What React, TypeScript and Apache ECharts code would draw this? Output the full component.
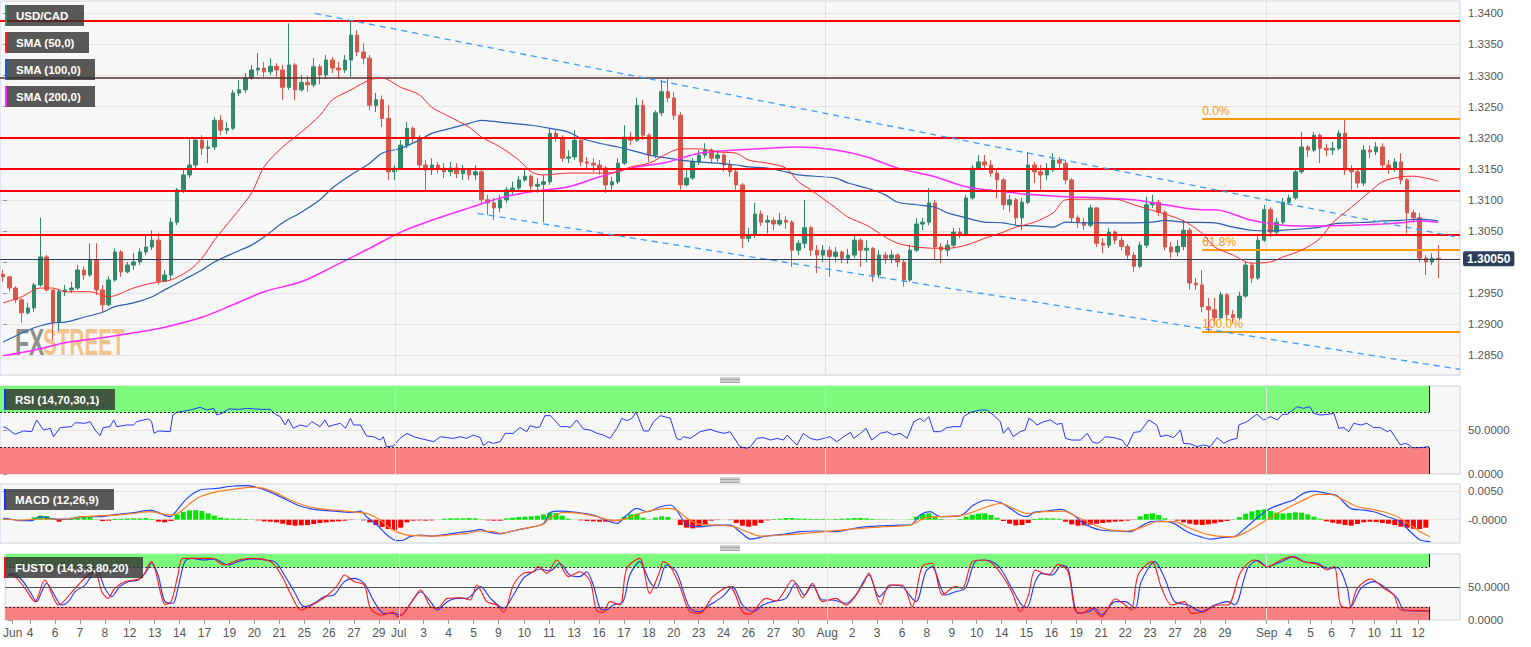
import React, { useEffect, useRef } from 'react';
import * as echarts from 'echarts';

// ---------- DATA ----------
const SLOT_COUNT = 235; // category slots on the time axis (232 candles + right padding)
const firstOpen = 1.298;
const closes = [
  1.2976, 1.2958, 1.2939, 1.2918, 1.2926, 1.2963, 1.3008, 1.2955, 1.2903, 1.2952,
  1.2955, 1.2958, 1.2987, 1.2979, 1.3003, 1.2955, 1.2931, 1.2971, 1.3016, 1.2984,
  1.2995, 1.3000, 1.3016, 1.3024, 1.3035, 1.2969, 1.2979, 1.3064, 1.3116, 1.3140,
  1.3156, 1.3196, 1.3183, 1.3185, 1.3228, 1.3212, 1.3215, 1.3272, 1.3277, 1.3296,
  1.3309, 1.3312, 1.3306, 1.3315, 1.3309, 1.3281, 1.3317, 1.3277, 1.3289, 1.3285,
  1.3314, 1.3301, 1.3325, 1.3312, 1.3309, 1.3325, 1.3365, 1.3338, 1.3328, 1.3252,
  1.3261, 1.3231, 1.3145, 1.3151, 1.3188, 1.3215, 1.3199, 1.3156, 1.3148, 1.3156,
  1.3151, 1.3145, 1.3151, 1.3142, 1.3148, 1.3140, 1.3145, 1.3100, 1.3095, 1.3087,
  1.3100, 1.3116, 1.3119, 1.3132, 1.3138, 1.3122, 1.3125, 1.3129, 1.3207, 1.3199,
  1.3167, 1.3169, 1.3196, 1.3161, 1.3159, 1.3156, 1.3151, 1.3124, 1.3129, 1.3159,
  1.3201, 1.3196, 1.3252, 1.3204, 1.3172, 1.3240, 1.3274, 1.3264, 1.3236, 1.3124,
  1.3135, 1.3161, 1.3172, 1.3180, 1.3167, 1.3172, 1.3156, 1.3145, 1.3124, 1.3038,
  1.3043, 1.3077, 1.3064, 1.3067, 1.3061, 1.3067, 1.3064, 1.3019, 1.3030, 1.3055,
  1.3019, 1.3011, 1.3019, 1.3009, 1.3016, 1.3006, 1.3011, 1.3035, 1.3019, 1.3022,
  1.2979, 1.3011, 1.3006, 1.3011, 1.3000, 1.2971, 1.3019, 1.3061, 1.3064, 1.3095,
  1.3024, 1.3019, 1.3027, 1.3048, 1.3045, 1.3103, 1.3151, 1.3161, 1.3156, 1.3143,
  1.3132, 1.3092, 1.3100, 1.3071, 1.3096, 1.3156, 1.3145, 1.3140, 1.3148, 1.3164,
  1.3159, 1.3132, 1.3071, 1.3064, 1.3059, 1.3087, 1.3030, 1.3027, 1.3048, 1.3035,
  1.3025, 1.3011, 1.2993, 1.3027, 1.3092, 1.3096, 1.3080, 1.3024, 1.3016, 1.3025,
  1.3051, 1.2966, 1.2963, 1.2928, 1.2923, 1.2910, 1.2947, 1.2915, 1.2910, 1.2945,
  1.2995, 1.2974, 1.3035, 1.3084, 1.3048, 1.3064, 1.3096, 1.3103, 1.3145, 1.3185,
  1.3180, 1.3204, 1.3183, 1.3180, 1.3183, 1.3207, 1.3148, 1.3145, 1.3127, 1.3180,
  1.3177, 1.3185, 1.3156, 1.3151, 1.3161, 1.3132, 1.3079, 1.3071, 1.3006, 1.3000,
  1.3006, 1.3005
];
const highs = [
  1.2987, 1.2977, 1.2961, 1.2942, 1.2934, 1.2966, 1.3071, 1.3011, 1.2955, 1.2955,
  1.2963, 1.2968, 1.2995, 1.2993, 1.3030, 1.3030, 1.2963, 1.2977, 1.3022, 1.3019,
  1.3000, 1.3014, 1.3022, 1.3043, 1.3051, 1.3047, 1.2987, 1.3071, 1.3119, 1.3148,
  1.3201, 1.3201, 1.3204, 1.3196, 1.3233, 1.3236, 1.3225, 1.3277, 1.3293, 1.3304,
  1.3317, 1.3336, 1.3322, 1.3328, 1.3320, 1.3317, 1.3384, 1.3320, 1.3301, 1.3299,
  1.3328, 1.3318, 1.3333, 1.3330, 1.3322, 1.3333, 1.3386, 1.3373, 1.3352, 1.3333,
  1.3272, 1.3268, 1.3252, 1.3156, 1.3196, 1.3225, 1.3218, 1.3204, 1.3164, 1.3167,
  1.3161, 1.3159, 1.3161, 1.3159, 1.3156, 1.3151, 1.3156, 1.3151, 1.3108, 1.3103,
  1.3108, 1.3121, 1.3129, 1.3138, 1.3148, 1.3141, 1.3135, 1.3140, 1.3215, 1.3212,
  1.3204, 1.3180, 1.3212, 1.3201, 1.3169, 1.3167, 1.3164, 1.3154, 1.3137, 1.3167,
  1.3220, 1.3209, 1.3264, 1.3261, 1.3207, 1.3244, 1.3293, 1.3296, 1.3274, 1.3241,
  1.3148, 1.3167, 1.3180, 1.3191, 1.3183, 1.3180, 1.3175, 1.3164, 1.3151, 1.3127,
  1.3055, 1.3095, 1.3083, 1.3075, 1.3072, 1.3079, 1.3074, 1.3067, 1.3035, 1.3100,
  1.3058, 1.3027, 1.3027, 1.3025, 1.3024, 1.3019, 1.3021, 1.3043, 1.3038, 1.3035,
  1.3024, 1.3019, 1.3016, 1.3019, 1.3014, 1.3003, 1.3027, 1.3071, 1.3071, 1.3119,
  1.3100, 1.3030, 1.3035, 1.3055, 1.3055, 1.3108, 1.3156, 1.3172, 1.3172, 1.3164,
  1.3148, 1.3135, 1.3108, 1.3103, 1.3103, 1.3177, 1.3161, 1.3156, 1.3159, 1.3175,
  1.3169, 1.3164, 1.3135, 1.3075, 1.3071, 1.3092, 1.3088, 1.3038, 1.3055, 1.3051,
  1.3041, 1.3029, 1.3016, 1.3032, 1.3105, 1.3108, 1.3100, 1.3083, 1.3032, 1.3035,
  1.3067, 1.3055, 1.2974, 1.2987, 1.2942, 1.2942, 1.2952, 1.2950, 1.2923, 1.2952,
  1.3000, 1.3000, 1.3043, 1.3092, 1.3088, 1.3071, 1.3103, 1.3108, 1.3151, 1.3209,
  1.3188, 1.3209, 1.3207, 1.3190, 1.3193, 1.3212, 1.3230, 1.3156, 1.3151, 1.3188,
  1.3188, 1.3193, 1.3191, 1.3164, 1.3167, 1.3175, 1.3135, 1.3084, 1.3079, 1.3011,
  1.3014, 1.3027
];
const lows = [
  1.2968, 1.2952, 1.2934, 1.2902, 1.2915, 1.2919, 1.2960, 1.2952, 1.2874, 1.2890,
  1.2945, 1.2950, 1.2955, 1.2971, 1.2976, 1.2947, 1.2919, 1.2929, 1.2968, 1.2976,
  1.2982, 1.2987, 1.2995, 1.3011, 1.3019, 1.2964, 1.2968, 1.2971, 1.3059, 1.3111,
  1.3135, 1.3151, 1.3172, 1.3159, 1.3180, 1.3204, 1.3206, 1.3212, 1.3267, 1.3272,
  1.3293, 1.3301, 1.3298, 1.3301, 1.3298, 1.3261, 1.3277, 1.3261, 1.3274, 1.3274,
  1.3281, 1.3286, 1.3296, 1.3304, 1.3296, 1.3304, 1.3298, 1.3331, 1.3318, 1.3244,
  1.3241, 1.3217, 1.3132, 1.3132, 1.3148, 1.3183, 1.3193, 1.3148, 1.3113, 1.3140,
  1.3143, 1.3135, 1.3138, 1.3135, 1.3132, 1.3132, 1.3132, 1.3092, 1.3076, 1.3067,
  1.3080, 1.3095, 1.3108, 1.3113, 1.3129, 1.3116, 1.3111, 1.3064, 1.3124, 1.3193,
  1.3161, 1.3159, 1.3164, 1.3154, 1.3148, 1.3145, 1.3140, 1.3111, 1.3116, 1.3125,
  1.3156, 1.3188, 1.3193, 1.3196, 1.3161, 1.3167, 1.3235, 1.3257, 1.3228, 1.3116,
  1.3122, 1.3132, 1.3156, 1.3167, 1.3159, 1.3161, 1.3145, 1.3137, 1.3116, 1.3022,
  1.3032, 1.3038, 1.3058, 1.3046, 1.3051, 1.3058, 1.3053, 1.2992, 1.3011, 1.3022,
  1.3009, 1.2982, 1.3000, 1.2976, 1.3000, 1.2998, 1.2997, 1.3006, 1.2992, 1.3000,
  1.2968, 1.2974, 1.2997, 1.2998, 1.2992, 1.2960, 1.2968, 1.3016, 1.3051, 1.3059,
  1.3003, 1.2998, 1.3009, 1.3022, 1.3038, 1.3041, 1.3100, 1.3148, 1.3151, 1.3137,
  1.3103, 1.3084, 1.3080, 1.3059, 1.3051, 1.3093, 1.3127, 1.3116, 1.3132, 1.3145,
  1.3151, 1.3125, 1.3064, 1.3055, 1.3051, 1.3056, 1.3024, 1.3014, 1.3022, 1.3029,
  1.3019, 1.3003, 1.2984, 1.2990, 1.3022, 1.3087, 1.3074, 1.3019, 1.3006, 1.3009,
  1.3019, 1.2955, 1.2955, 1.2919, 1.2887, 1.2903, 1.2907, 1.2907, 1.2902, 1.2907,
  1.2942, 1.2966, 1.2971, 1.3032, 1.3040, 1.3043, 1.3061, 1.3092, 1.3100, 1.3142,
  1.3169, 1.3177, 1.3159, 1.3170, 1.3172, 1.3180, 1.3140, 1.3116, 1.3119, 1.3122,
  1.3167, 1.3172, 1.3151, 1.3142, 1.3145, 1.3125, 1.3046, 1.3063, 1.3000, 1.2979,
  1.2995, 1.2974
];

// moving averages: [bar index, value]
const sma50 = [
  [0, 1.2934], [3, 1.2944], [6, 1.2958], [8, 1.2958], [10, 1.2952], [14, 1.2952], [17, 1.2944], [21, 1.2958],
  [24, 1.2966], [27, 1.2971], [30, 1.2987], [32, 1.3006], [34, 1.3035], [37, 1.3072], [40, 1.3111], [42, 1.3153],
  [45, 1.3185], [48, 1.3209], [51, 1.3236], [53, 1.3261], [56, 1.3277], [59, 1.3293], [61, 1.3296], [64, 1.3281],
  [67, 1.3269], [69, 1.3249], [72, 1.3233], [75, 1.3217], [77, 1.3201], [80, 1.3185], [83, 1.3164], [85, 1.3145],
  [87, 1.3140], [91, 1.3143], [96, 1.3143], [99, 1.3145], [101, 1.3153], [104, 1.3159], [107, 1.3175], [109, 1.3182],
  [112, 1.3182], [115, 1.3177], [118, 1.3175], [120, 1.3164], [123, 1.3159], [126, 1.3151], [128, 1.3129], [130, 1.3116],
  [134, 1.3087], [136, 1.3072], [139, 1.3059], [142, 1.3040], [144, 1.3030], [147, 1.3024], [150, 1.3022], [152, 1.3022],
  [155, 1.3027], [158, 1.3038], [161, 1.3048], [163, 1.3056], [166, 1.3064], [169, 1.3079], [171, 1.3100], [174, 1.3101],
  [177, 1.3101], [179, 1.3101], [182, 1.3092], [185, 1.3083], [187, 1.3077], [190, 1.3066], [193, 1.3046], [195, 1.3024],
  [198, 1.3011], [200, 1.3000], [201, 1.2998], [204, 1.3000], [206, 1.3008], [209, 1.3019], [212, 1.3038], [214, 1.3063],
  [217, 1.3088], [220, 1.3113], [222, 1.3129], [225, 1.3137], [227, 1.3138], [229, 1.3135], [231, 1.3130]
];
const sma100 = [
  [0, 1.2871], [5, 1.2894], [8, 1.2902], [10, 1.2903], [13, 1.2911], [16, 1.2919], [18, 1.2928], [21, 1.2934],
  [24, 1.2944], [26, 1.2955], [29, 1.2971], [32, 1.2987], [34, 1.3000], [37, 1.3014], [40, 1.3027], [42, 1.3040],
  [45, 1.3063], [48, 1.3080], [51, 1.3100], [53, 1.3119], [56, 1.3140], [59, 1.3159], [61, 1.3175], [64, 1.3183],
  [67, 1.3196], [69, 1.3207], [72, 1.3215], [75, 1.3223], [77, 1.3228], [80, 1.3225], [85, 1.3220], [88, 1.3215],
  [91, 1.3209], [93, 1.3199], [96, 1.3191], [99, 1.3185], [101, 1.3180], [104, 1.3172], [107, 1.3167], [109, 1.3164],
  [112, 1.3161], [115, 1.3159], [118, 1.3156], [120, 1.3153], [123, 1.3151], [126, 1.3145], [128, 1.3140], [134, 1.3135],
  [136, 1.3127], [139, 1.3119], [142, 1.3108], [144, 1.3096], [147, 1.3092], [150, 1.3088], [152, 1.3079], [155, 1.3071],
  [158, 1.3064], [161, 1.3063], [163, 1.3059], [166, 1.3058], [169, 1.3056], [171, 1.3064], [174, 1.3063], [177, 1.3063],
  [182, 1.3063], [185, 1.3064], [187, 1.3067], [190, 1.3064], [195, 1.3063], [198, 1.3056], [201, 1.3051], [204, 1.3050],
  [206, 1.3051], [209, 1.3053], [212, 1.3056], [214, 1.3061], [217, 1.3063], [220, 1.3064], [222, 1.3066], [225, 1.3067],
  [228, 1.3069], [231, 1.3066]
];
const sma200 = [
  [0, 1.2849], [5, 1.2858], [10, 1.2870], [16, 1.2878], [21, 1.2886], [26, 1.2895], [32, 1.2911], [37, 1.2931],
  [42, 1.2952], [48, 1.2968], [53, 1.2992], [59, 1.3022], [64, 1.3048], [69, 1.3067], [75, 1.3087], [80, 1.3103],
  [85, 1.3113], [91, 1.3121], [96, 1.3137], [101, 1.3151], [107, 1.3161], [112, 1.3175], [118, 1.3180], [123, 1.3183],
  [128, 1.3185], [134, 1.3180], [139, 1.3169], [144, 1.3151], [150, 1.3137], [155, 1.3121], [161, 1.3113], [166, 1.3108],
  [171, 1.3105], [177, 1.3103], [182, 1.3100], [187, 1.3092], [193, 1.3084], [195, 1.3084], [201, 1.3067], [206, 1.3059],
  [209, 1.3058], [212, 1.3058], [217, 1.3059], [222, 1.3061], [225, 1.3063], [228, 1.3066], [231, 1.3064]
];

const resistanceLevels = [1.3388, 1.32, 1.315, 1.3115, 1.3043];
const pivotLevel = 1.3297;
const lastPrice = 1.3005;
const fibStart = 193.0;
const fibNames = ['0.0%', '61.8%', '100.0%'];
const fibValues = [1.323, 1.3019, 1.2887];
const channelUpper = [[50.2, 1.34], [234.5, 1.3039]];
const channelLower = [[76.4, 1.3078], [234.5, 1.2827]];
const monthStarts = [63.08, 132.29, 203.27];
const indicatorEnd = 229.5;

const rsi = [
  [0, 53.8], [0.6, 51.9], [1.9, 45.1], [3.3, 48.9], [4.6, 48.1], [5.4, 61.4], [6.5, 50.0], [7.6, 51.9], [8.1, 42.4], [9.2, 52.7],
  [11.0, 53.8], [11.6, 58.3], [13.2, 57.6], [14.0, 59.5], [14.8, 50.0], [15.6, 43.6], [16.1, 52.7], [17.2, 53.8], [17.8, 61.4],
  [18.3, 53.8], [19.9, 55.7], [21.0, 55.7], [21.5, 59.5], [22.6, 61.4], [23.4, 62.5], [23.9, 59.5], [24.3, 46.2], [25.0, 48.9],
  [26.9, 48.1], [27.3, 67.0], [28.0, 70.1], [30.1, 72.7], [31.7, 75.8], [32.8, 72.7], [33.9, 74.6], [34.4, 67.0], [35.2, 68.9],
  [36.3, 73.9], [38.1, 73.5], [39.2, 74.6], [41.4, 73.5], [43.0, 73.5], [43.8, 67.8], [44.6, 65.2], [45.4, 55.7], [45.9, 62.5],
  [46.7, 51.9], [47.8, 55.7], [48.9, 53.8], [49.7, 59.5], [51.0, 53.8], [51.8, 61.4], [52.4, 53.8], [53.2, 55.7], [54.3, 57.6],
  [55.1, 51.9], [55.9, 63.3], [56.4, 55.7], [57.5, 55.7], [58.5, 43.2], [59.6, 42.4], [60.7, 38.6], [61.2, 42.4], [61.7, 31.1],
  [62.8, 31.8], [63.9, 40.5], [65.0, 46.2], [66.1, 42.4], [67.1, 40.5], [68.2, 38.6], [69.3, 36.7], [70.4, 42.4], [71.4, 41.3],
  [72.5, 40.5], [73.6, 42.4], [74.6, 40.5], [75.7, 44.3], [76.8, 41.3], [77.3, 32.2], [78.1, 36.7], [78.9, 34.8], [80.0, 36.7],
  [80.8, 46.2], [82.1, 46.2], [83.2, 52.7], [84.3, 48.1], [84.8, 54.9], [85.9, 52.7], [86.4, 53.8], [87.2, 66.3], [88.1, 66.3],
  [89.7, 53.8], [90.7, 53.8], [91.3, 53.0], [92.3, 61.4], [93.4, 51.1], [94.5, 50.0], [95.6, 46.2], [96.6, 44.3], [97.7, 40.5],
  [98.8, 51.9], [99.6, 63.3], [100.4, 60.6], [101.2, 63.3], [101.9, 70.1], [103.1, 48.9], [103.9, 48.9], [104.7, 59.5],
  [105.8, 66.3], [107.4, 63.3], [108.4, 40.5], [109.0, 38.6], [109.5, 42.4], [110.6, 40.5], [112.2, 48.1], [113.8, 50.8],
  [114.9, 48.1], [116.0, 46.2], [117.0, 48.1], [118.6, 31.1], [119.7, 29.2], [120.3, 31.1], [121.3, 40.5], [122.4, 41.3],
  [123.5, 38.6], [124.6, 40.5], [125.6, 38.6], [126.2, 44.3], [127.2, 36.7], [127.8, 33.0], [128.8, 46.2], [129.9, 40.5],
  [131.0, 38.6], [132.1, 40.5], [133.1, 42.4], [134.2, 36.7], [135.3, 42.4], [136.4, 47.3], [136.9, 40.5], [138.0, 46.2],
  [138.9, 51.9], [139.8, 38.6], [141.2, 46.2], [142.3, 48.1], [143.3, 44.3], [144.4, 46.2], [145.5, 40.5], [146.6, 59.5],
  [147.6, 63.3], [148.2, 59.5], [149.0, 65.2], [149.8, 48.1], [150.9, 48.1], [151.9, 52.7], [153.0, 53.8], [154.1, 53.8],
  [154.6, 65.2], [155.7, 70.1], [157.3, 72.7], [158.4, 72.7], [159.4, 67.0], [160.5, 59.5], [161.0, 46.2], [161.8, 52.7],
  [162.6, 42.4], [163.7, 48.1], [164.5, 50.0], [165.1, 63.3], [165.9, 59.5], [166.4, 55.7], [167.5, 59.5], [168.6, 61.4],
  [169.6, 56.4], [170.4, 57.6], [171.0, 40.5], [172.0, 38.6], [173.4, 38.6], [174.5, 46.2], [175.3, 36.7], [176.1, 34.8],
  [176.6, 36.7], [177.4, 42.4], [178.8, 41.3], [180.1, 38.6], [180.9, 31.1], [182.0, 47.3], [183.0, 48.1], [184.4, 61.4],
  [185.7, 55.7], [186.3, 42.4], [187.3, 44.3], [188.4, 41.3], [189.5, 50.0], [190.0, 34.8], [191.1, 34.1], [192.2, 31.1],
  [193.2, 33.0], [194.3, 31.1], [195.4, 41.3], [196.5, 34.8], [197.5, 38.6], [198.6, 40.5], [198.9, 55.7], [200.2, 59.5],
  [201.8, 67.8], [202.9, 61.4], [204.0, 65.2], [205.1, 61.4], [205.9, 67.8], [206.7, 67.8], [208.3, 76.5], [209.3, 74.6],
  [210.3, 76.5], [211.0, 68.9], [212.0, 67.0], [213.1, 67.8], [214.2, 68.9], [215.0, 51.9], [215.8, 52.7], [216.6, 48.1],
  [217.4, 57.6], [218.5, 55.7], [219.5, 57.6], [220.6, 52.7], [221.7, 52.7], [222.8, 48.1], [223.3, 50.0], [224.9, 33.0],
  [225.7, 34.8], [226.3, 33.0], [226.8, 29.9], [228.1, 29.9], [229.5, 31.1]
];

const macdHist = [
  0.00003, 0.00003, 0.00002, 0.00002, 0.00005, 0.00041, 0.0007, 0.00064, 0.00012, -0.00035,
  0.00012, 0.00035, 0.00052, 0.00058, 0.00052, 0.00006, -0.00023, -0.00017, 0.00017, 0.00017,
  0.00023, 0.00023, 0.00023, 0.00029, 0.00012, -0.00035, -0.00046, -0.00023, 0.00093, 0.00139,
  0.00162, 0.00168, 0.00151, 0.0011, 0.0007, 0.00035, 0.00023, 0.00017, 0.00017, 0.00012,
  0.00006, -0.00012, -0.00029, -0.00035, -0.00046, -0.0007, -0.00093, -0.00104, -0.00099, -0.00093,
  -0.00075, -0.00058, -0.00046, -0.00035, -0.00029, -0.00017, -0.00006, 0.00001, -0.00012, -0.00046,
  -0.00093, -0.00128, -0.00162, -0.0018, -0.00139, -0.00046, -0.00017, -0.00012, -0.00017, -0.00012,
  0.00001, 0.00017, 0.00023, 0.00023, 0.00023, 0.00029, 0.00023, 0.00006, -0.00012, -0.00017,
  -0.00017, 0.00023, 0.00035, 0.00046, 0.00052, 0.00058, 0.0007, 0.00093, 0.00122, 0.00116,
  0.0007, 0.00017, 0.00001, -0.00012, -0.00023, -0.00029, -0.00035, -0.00035, -0.00029, -0.00012,
  0.00052, 0.00093, 0.00104, 0.00035, 0.00006, 0.00035, 0.00058, 0.00046, 0.00001, -0.00093,
  -0.00139, -0.00151, -0.00133, -0.00081, -0.00017, -0.00006, 0.00001, -0.00006, -0.00058, -0.00104,
  -0.00122, -0.00104, -0.00058, -0.00012, 0.00012, 0.00017, 0.00029, 0.00029, 0.00017, 0.00017,
  0.00012, 0.00012, 0.00012, 0.00006, 0.00012, 0.00017, 0.00023, 0.00029, 0.00029, 0.00023,
  0.00012, 0.00006, 0.00006, 0.00006, 0.00001, 0.00001, 0.00006, 0.00052, 0.00099, 0.0011,
  0.00058, 0.00012, 0.00001, 0.00001, 0.00012, 0.00052, 0.00087, 0.00104, 0.0011, 0.00081,
  0.00035, -0.00023, -0.0007, -0.00099, -0.00093, -0.00058, 0.00012, 0.00023, 0.00023, 0.00023,
  0.00017, -0.00035, -0.00081, -0.00104, -0.00099, -0.00087, -0.0007, -0.00058, -0.00046, -0.00035,
  -0.00029, -0.00017, -0.00006, 0.00058, 0.00099, 0.0011, 0.00081, 0.00023, 0.00001, -0.00017,
  -0.00046, -0.0007, -0.00087, -0.00093, -0.00081, -0.00064, -0.00041, -0.00023, 0.00006, 0.00046,
  0.00104, 0.00145, 0.00168, 0.0018, 0.00151, 0.00122, 0.0011, 0.00116, 0.00128, 0.00122,
  0.00093, 0.00052, 0.00017, -0.00029, -0.00052, -0.0007, -0.00093, -0.00104, -0.00075, -0.00046,
  -0.00035, -0.00041, -0.00058, -0.0007, -0.00093, -0.00122, -0.00139, -0.00157, -0.00162, -0.00139
];
const macdLine = [
  [0, 0.00023], [1.1, 0.00012], [2.7, -0.00017], [4.6, -0.00017], [5.9, 0.00052], [7.6, 0.00023], [9.2, 0.00006],
  [10.8, 0.00012], [12.9, 0.00052], [15.6, 0.00052], [18.3, 0.00093], [21.0, 0.00122], [23.7, 0.00168], [25.3, 0.0011],
  [26.9, 0.00052], [28.0, 0.00168], [29.6, 0.00372], [31.7, 0.00517], [34.4, 0.00546], [37.1, 0.00587], [39.2, 0.00592],
  [41.4, 0.00546], [43.5, 0.00459], [45.7, 0.00343], [47.8, 0.00238], [50.0, 0.0018], [52.1, 0.00157], [54.3, 0.00139],
  [56.4, 0.00128], [57.5, 0.00151], [58.5, 0.00052], [60.2, -0.00093], [61.8, -0.00267], [63.4, -0.00366], [64.5, -0.00354],
  [65.5, -0.00296], [67.1, -0.00267], [69.3, -0.00285], [71.4, -0.00256], [73.6, -0.00221], [75.7, -0.00192], [76.8, -0.00168],
  [77.9, -0.00209], [80.0, -0.00247], [81.6, -0.00209], [83.2, -0.00168], [85.4, -0.00122], [87.0, -0.00064], [88.1, 0.00128],
  [89.7, 0.00151], [92.3, 0.00128], [95.0, 0.00081], [97.7, -0.00035], [98.8, -0.00064], [100.4, 0.00081], [102.0, 0.00197],
  [103.6, 0.00139], [105.8, 0.00226], [107.4, 0.00256], [108.4, 0.00168], [110.1, -0.00093], [112.2, -0.00122],
  [114.9, -0.00093], [117.0, -0.00093], [118.6, -0.00209], [120.3, -0.00337], [122.9, -0.00285], [125.6, -0.00256],
  [128.3, -0.00209], [131.0, -0.00197], [133.7, -0.00209], [136.4, -0.00163], [139.0, -0.00122], [141.7, -0.00105],
  [144.4, -0.00093], [146.0, -0.00093], [147.6, 0.00081], [149.2, 0.00139], [150.9, 0.00052], [154.1, 0.0007], [156.2, 0.00256],
  [158.4, 0.00343], [160.5, 0.003], [162.1, 0.00197], [163.7, 0.00081], [164.8, 0.00052], [165.9, 0.00128], [168.0, 0.00151],
  [170.2, 0.0018], [172.3, 0.00081], [173.9, -0.00064], [176.6, -0.0018], [179.3, -0.00197], [181.4, -0.00209],
  [183.0, -0.00122], [184.7, -0.00035], [186.3, -0.00023], [188.4, -0.00064], [190.6, -0.00209], [192.7, -0.00296],
  [194.3, -0.00337], [196.5, -0.00308], [198.1, -0.00296], [200.2, -0.00122], [202.4, 0.00081], [204.0, 0.00197],
  [206.1, 0.00285], [207.7, 0.00343], [209.3, 0.00459], [211.0, 0.00499], [213.1, 0.00459], [214.7, 0.00418],
  [216.9, 0.00197], [219.0, 0.00168], [220.6, 0.00139], [222.8, 0.00052], [224.9, -0.00035], [226.5, -0.00209],
  [228.1, -0.00354], [229.7, -0.00383]
];
const macdSignal = [
  [0, 0.00012], [2.7, -0.00006], [5.9, 0.00012], [10.2, 0.00012], [12.9, 0.00052], [15.6, 0.0007], [18.3, 0.00081],
  [21.0, 0.0011], [23.7, 0.00139], [26.9, 0.00081], [28.5, 0.00139], [30.1, 0.00285], [31.7, 0.00401], [34.4, 0.00488],
  [37.1, 0.00528], [39.8, 0.00563], [41.9, 0.00546], [44.1, 0.00459], [46.2, 0.00343], [48.3, 0.00256], [50.5, 0.00197],
  [53.2, 0.00168], [55.9, 0.00139], [58.5, 0.0011], [60.7, -0.00006], [62.3, -0.00151], [64.5, -0.00256], [66.6, -0.00279],
  [69.3, -0.00285], [72.0, -0.00267], [74.6, -0.00238], [76.8, -0.00197], [79.0, -0.00209], [80.0, -0.00238],
  [82.7, -0.0018], [85.4, -0.00122], [87.0, -0.00075], [88.1, 0.00035], [90.2, 0.00128], [92.9, 0.0011], [95.6, 0.00052],
  [98.3, -0.00017], [100.4, 0.00023], [102.5, 0.0011], [104.7, 0.00168], [106.8, 0.00197], [108.4, 0.00168],
  [110.1, 0.00023], [112.2, -0.00081], [114.9, -0.00093], [117.6, -0.00122], [119.7, -0.00209], [121.9, -0.00285],
  [125.6, -0.00267], [131.0, -0.00221], [136.4, -0.00163], [141.7, -0.00122], [146.0, -0.00093], [148.2, 0.00023],
  [150.3, 0.00052], [154.1, 0.0007], [156.2, 0.00139], [158.4, 0.00226], [160.5, 0.00285], [162.6, 0.00197],
  [164.8, 0.0011], [167.5, 0.00139], [170.7, 0.00151], [172.8, 0.00052], [175.0, -0.00064], [177.7, -0.00168],
  [180.9, -0.00197], [183.6, -0.00122], [185.7, -0.00035], [188.4, -0.00035], [191.1, -0.00151], [193.8, -0.00256],
  [197.0, -0.00296], [198.1, -0.00296], [200.2, -0.00209], [202.9, -0.00035], [205.6, 0.00139], [207.7, 0.00256],
  [209.9, 0.00372], [211.5, 0.00441], [213.6, 0.00441], [215.8, 0.00343], [218.0, 0.00226], [220.1, 0.00186],
  [222.2, 0.00139], [224.4, 0.00052], [226.5, -0.00093], [228.1, -0.00209], [229.7, -0.00296]
];

// Full stochastic: fast (red) and slow (blue)
const stochFast = [
  [0, 68.2], [1.1, 65.7], [2.7, 48.0], [4.3, 27.8], [5.9, 60.6], [8.1, 22.7], [10.8, 48.0], [12.9, 68.2], [14.0, 73.2],
  [15.1, 42.9], [16.1, 32.8], [17.2, 48.0], [18.8, 58.1], [21.5, 64.1], [23.1, 88.4], [24.7, 37.9], [25.3, 23.7], [26.3, 27.8],
  [27.4, 68.2], [28.2, 93.4], [30.1, 93.4], [32.8, 93.4], [34.9, 83.3], [37.1, 90.9], [39.2, 93.4], [42.4, 88.4], [44.1, 68.2],
  [45.7, 37.9], [47.3, 15.2], [50.0, 27.8], [51.6, 37.9], [53.2, 53.0], [54.3, 68.2], [55.9, 58.1], [57.5, 53.0], [58.5, 17.7],
  [60.2, 7.6], [62.3, 11.6], [62.8, 5.1], [63.9, 10.1], [65.5, 32.8], [66.6, 45.5], [68.2, 20.2], [69.3, 17.7], [70.9, 32.8],
  [73.0, 33.8], [74.6, 30.3], [75.7, 53.0], [77.3, 27.8], [78.9, 22.7], [80.0, 11.6], [81.6, 53.0], [83.2, 70.7], [84.8, 73.2],
  [85.6, 80.8], [87.0, 70.7], [88.6, 90.9], [90.5, 65.7], [92.3, 73.2], [94.0, 58.1], [95.0, 15.2], [96.1, 11.6], [97.2, 27.8],
  [98.8, 22.7], [99.9, 78.3], [102.0, 93.4], [103.6, 40.4], [105.2, 73.2], [105.8, 88.4], [106.8, 83.3], [108.4, 53.0],
  [110.1, 12.6], [111.7, 10.1], [113.8, 35.4], [116.5, 50.5], [118.6, 12.6], [119.7, 8.6], [122.4, 32.8], [124.0, 28.8],
  [126.7, 60.6], [128.3, 33.8], [129.9, 55.6], [131.5, 27.8], [133.7, 32.8], [135.3, 22.7], [138.0, 53.0], [139.0, 70.7],
  [140.9, 23.7], [142.3, 53.0], [144.4, 53.0], [146.0, 20.2], [147.6, 80.8], [149.2, 85.9], [150.9, 37.9], [153.0, 50.5],
  [154.1, 48.0], [155.7, 88.4], [157.3, 90.9], [158.9, 85.9], [160.5, 68.2], [162.1, 42.9], [163.5, 12.6], [164.8, 37.9],
  [165.9, 75.8], [168.0, 68.2], [169.6, 84.3], [171.2, 73.2], [172.3, 15.2], [173.4, 10.1], [175.0, 17.7], [176.6, 5.1],
  [178.8, 31.8], [180.4, 22.7], [181.4, 15.2], [182.5, 68.2], [184.7, 88.4], [186.3, 48.0], [187.9, 22.7], [190.0, 27.8],
  [191.1, 10.1], [193.2, 12.6], [195.4, 22.7], [197.0, 22.7], [199.1, 73.2], [201.3, 90.9], [203.4, 80.8], [205.6, 90.9],
  [207.2, 96.0], [209.3, 88.4], [211.5, 84.3], [213.1, 75.8], [214.2, 80.8], [215.2, 22.7], [216.6, 17.7], [217.9, 48.0],
  [220.1, 62.1], [222.2, 48.0], [223.8, 37.9], [224.9, 15.2], [227.1, 14.6], [229.7, 13.6]
];
const stochSlow = [
  [0, 68.2], [0.6, 70.7], [2.2, 60.6], [3.5, 42.9], [4.6, 27.8], [5.4, 42.9], [6.2, 55.6], [7.3, 40.4], [8.6, 22.7],
  [9.7, 27.8], [10.8, 42.9], [12.4, 53.0], [13.5, 68.2], [14.3, 75.8], [15.6, 48.0], [16.7, 35.4], [18.0, 50.5], [19.4, 58.1],
  [21.0, 60.6], [22.3, 73.2], [23.1, 85.9], [24.2, 68.2], [25.3, 27.8], [26.6, 25.3], [27.4, 48.0], [28.5, 88.4], [29.6, 93.4],
  [31.7, 90.9], [33.3, 92.4], [35.5, 83.3], [37.1, 88.4], [39.2, 92.4], [41.4, 90.9], [43.2, 87.4], [44.6, 68.2], [46.2, 42.9],
  [47.8, 20.2], [49.4, 25.3], [51.0, 35.4], [52.6, 37.9], [54.3, 58.1], [55.9, 63.1], [57.5, 55.6], [59.1, 27.8], [60.7, 10.1],
  [62.3, 10.1], [63.4, 7.6], [65.0, 25.3], [66.6, 42.9], [68.2, 27.8], [69.3, 15.2], [70.9, 27.8], [72.5, 32.8], [74.1, 32.8],
  [76.3, 50.5], [77.9, 32.8], [80.0, 17.7], [81.6, 37.9], [83.2, 63.1], [84.8, 73.2], [85.9, 77.3], [87.5, 74.2], [89.1, 85.9],
  [90.7, 68.2], [92.3, 65.7], [93.4, 73.2], [94.5, 53.0], [95.6, 17.7], [96.6, 15.2], [97.7, 22.7], [99.3, 27.8], [100.4, 68.2],
  [102.0, 88.4], [103.6, 58.1], [104.7, 48.0], [106.3, 83.3], [107.9, 73.2], [110.1, 17.7], [111.7, 12.6], [113.3, 22.7],
  [115.4, 35.4], [117.0, 50.5], [118.6, 22.7], [120.3, 12.6], [121.9, 22.7], [123.5, 27.8], [125.6, 32.8], [127.2, 55.6],
  [128.6, 37.9], [129.9, 53.0], [131.5, 30.3], [133.1, 30.3], [135.3, 25.3], [136.9, 37.9], [139.0, 68.2], [140.7, 35.4],
  [142.8, 53.0], [144.4, 50.5], [146.6, 27.8], [148.2, 73.2], [149.2, 80.8], [151.4, 37.9], [153.0, 42.9], [154.6, 48.0],
  [156.2, 88.4], [157.8, 90.9], [159.4, 85.9], [160.5, 75.0], [162.1, 48.0], [163.7, 22.7], [164.5, 18.7], [165.9, 58.1],
  [166.9, 70.7], [168.6, 68.2], [170.2, 83.3], [171.2, 78.3], [172.8, 10.1], [174.5, 12.6], [175.5, 17.7], [176.6, 7.6],
  [178.8, 27.8], [180.4, 27.8], [182.0, 17.7], [183.0, 58.1], [185.2, 88.4], [186.8, 63.1], [188.4, 27.8], [190.6, 22.7],
  [192.7, 12.6], [194.9, 22.7], [197.0, 27.8], [198.1, 22.7], [200.2, 78.3], [201.8, 90.4], [203.4, 80.8], [205.6, 88.4],
  [207.7, 96.0], [209.3, 88.4], [211.5, 85.9], [213.1, 78.3], [214.7, 79.3], [216.3, 48.0], [216.9, 20.2], [218.5, 48.0],
  [220.6, 58.1], [222.2, 50.5], [224.4, 32.8], [225.4, 15.2], [227.6, 13.6], [229.7, 13.6]
];

const xTickIdx = [
  0.71, 3.52, 7.55, 11.57, 15.6, 19.62, 23.64, 27.67, 31.69, 35.72, 39.74, 43.76, 47.79, 51.81, 55.84, 59.86,
  63.08, 67.1, 71.13, 75.15, 79.17, 83.36, 87.38, 91.41, 95.43, 99.45, 103.48, 107.5, 111.53, 115.55, 119.57, 123.6, 127.62,
  132.29, 136.31, 140.34, 144.36, 148.39, 152.41, 156.43, 160.46, 164.48, 168.5, 172.53, 176.55, 180.42, 184.44, 188.46,
  192.49, 196.51, 203.27, 206.81, 210.36, 213.74, 217.12, 220.66, 224.2, 227.74
];
const xTickText = [
  'Jun', '4', '6', '7', '8', '12', '13', '14', '17', '19', '20', '21', '25', '26', '27', '29',
  'Jul', '3', '4', '5', '9', '10', '11', '13', '16', '17', '18', '20', '23', '24', '26', '27', '30',
  'Aug', '2', '3', '6', '8', '9', '10', '14', '15', '16', '19', '21', '22', '23', '27', '28',
  '29', 'Sep', '4', '5', '6', '7', '10', '11', '12'
];

// ---------- STYLE ----------
const FONT = "'Liberation Sans', Arial, sans-serif";
const UP = '#2f8a6a';
const DOWN = '#d9574a';
const GRID_BG = '#f7f7f7';
const GRID_BORDER = '#cdd3e3';
const BAND_GREEN = '#7cfb7c';
const BAND_RED = '#f88080';
const X_MIN = -0.5;
const X_MAX = SLOT_COUNT - 0.5;

function buildOption() {
  const slots = Array.from({ length: SLOT_COUNT }, (_, i) => String(i));
  const candleData = closes.map((c, i) => {
    const o = i === 0 ? firstOpen : closes[i - 1];
    return [o, c, Math.min(lows[i], o, c), Math.max(highs[i], o, c)];
  });
  const ml = (data: any[]) => ({
    silent: true,
    symbol: ['none', 'none'],
    precision: 6,
    label: { show: false },
    animation: false,
    data,
  });
  const monthLines = monthStarts.map((m) => ({ xAxis: m, lineStyle: { color: '#e1e1e1', width: 1, type: 'solid' } }));

  const bandAreas = (hi: number, lo: number) => ({
    silent: true,
    animation: false,
    data: [
      [{ coord: [X_MIN, hi], itemStyle: { color: BAND_GREEN, opacity: 1 } }, { coord: [indicatorEnd, 100] }],
      [{ coord: [X_MIN, 0], itemStyle: { color: BAND_RED, opacity: 1 } }, { coord: [indicatorEnd, lo] }],
    ],
  });
  const bandLines = (hi: number, lo: number) => [
    [{ coord: [X_MIN, hi], lineStyle: { color: '#222', width: 1, type: [2, 2] } }, { coord: [indicatorEnd, hi] }],
    [{ coord: [X_MIN, lo], lineStyle: { color: '#222', width: 1, type: [2, 2] } }, { coord: [indicatorEnd, lo] }],
    [{ coord: [indicatorEnd, hi], lineStyle: { color: '#111', width: 1, type: 'solid' } }, { coord: [indicatorEnd, 100] }],
    [{ coord: [indicatorEnd, 0], lineStyle: { color: '#111', width: 1, type: 'solid' } }, { coord: [indicatorEnd, lo] }],
  ];

  const gridCommon = { left: 0, right: 71, show: true, backgroundColor: GRID_BG, borderColor: GRID_BORDER, borderWidth: 1 };
  const yCommon = {
    position: 'right',
    axisLine: { show: false },
    axisTick: { show: true, length: 4, lineStyle: { color: '#999' } },
    axisLabel: { color: '#555', fontSize: 11.5, fontFamily: FONT, margin: 8 },
    splitLine: { show: true, lineStyle: { color: '#e4e4e4', width: 1 } },
  };
  const hiddenValueX = (gridIndex: number) => ({ type: 'value', gridIndex, min: X_MIN, max: X_MAX, show: false });

  const onStep = (v: number, step: number) => Math.abs(v / step - Math.round(v / step)) < 1e-6;

  const lineS = (name: string, data: any, xi: number, yi: number, color: string, width: number, smooth: any, z = 4, extra: any = {}) => ({
    name, type: 'line', data, xAxisIndex: xi, yAxisIndex: yi, showSymbol: false, symbol: 'none', smooth, z,
    lineStyle: { color, width }, itemStyle: { color }, animation: false, ...extra,
  });

  const legendBox = (x: number, y: number, w: number, h: number, strip: string, text: string) => [
    { type: 'rect', shape: { x, y, width: w, height: h }, style: { fill: 'rgba(48,48,48,0.8)' }, z: 100 },
    { type: 'rect', shape: { x, y, width: 2, height: h }, style: { fill: strip }, z: 101 },
    { type: 'text', x: x + 11, y: y + h / 2 + 0.5, style: { text, fill: '#fff', font: `bold 11.5px ${FONT}`, textVerticalAlign: 'middle', textAlign: 'left' }, z: 101 },
  ];
  const handle = (y: number) => [0, 1, 2, 3].map((k) => ({
    type: 'line', shape: { x1: 720, y1: y - 2 + k * 1.5, x2: 740, y2: y - 2 + k * 1.5 }, style: { stroke: '#8a8a8a', lineWidth: 0.8 }, z: 100,
  }));

  return {
    animation: false,
    textStyle: { fontFamily: FONT },
    backgroundColor: '#ffffff',
    grid: [
      { ...gridCommon, top: 1, height: 374 },
      { ...gridCommon, top: 386, height: 88 },
      { ...gridCommon, top: 484, height: 59 },
      { ...gridCommon, top: 554, height: 66 },
    ],
    xAxis: [
      { type: 'category', gridIndex: 0, data: slots, show: false },
      hiddenValueX(0),
      hiddenValueX(1),
      { type: 'category', gridIndex: 2, data: slots, show: false },
      hiddenValueX(2),
      {
        type: 'value', gridIndex: 3, min: X_MIN, max: X_MAX,
        axisLine: { show: false },
        splitLine: { show: false },
        axisTick: { show: true, length: 4, customValues: xTickIdx, lineStyle: { color: '#999' } },
        axisLabel: {
          show: true, customValues: xTickIdx, color: '#555', fontSize: 12, fontFamily: FONT, margin: 7,
          formatter: (v: number) => {
            const k = xTickIdx.findIndex((t) => Math.abs(t - v) < 1e-6);
            return k >= 0 ? xTickText[k] : '';
          },
        },
      },
    ],
    yAxis: [
      {
        ...yCommon, type: 'value', gridIndex: 0, min: 1.2818, max: 1.342, splitNumber: 12, minInterval: 0.005, maxInterval: 0.005,
        axisLabel: {
          ...yCommon.axisLabel, showMinLabel: false, showMaxLabel: false,
          // the last-price tag covers the label right under it
          formatter: (v: number) => (onStep(v, 0.005) && Math.abs(v - lastPrice) > 0.0008 ? v.toFixed(4) : ''),
        },
      },
      {
        ...yCommon, type: 'value', gridIndex: 1, min: 0, max: 100, interval: 50,
        axisLabel: { ...yCommon.axisLabel, formatter: (v: number) => (v === 0 || v === 50 ? v.toFixed(4) : '') },
      },
      {
        ...yCommon, type: 'value', gridIndex: 2, min: -0.00406, max: 0.00622, splitNumber: 2, minInterval: 0.005, maxInterval: 0.005,
        axisLabel: {
          ...yCommon.axisLabel, showMinLabel: false, showMaxLabel: false,
          formatter: (v: number) => (Math.abs(v) < 1e-9 ? '-0.0000' : Math.abs(v - 0.005) < 1e-9 ? '0.0050' : ''),
        },
      },
      {
        ...yCommon, type: 'value', gridIndex: 3, min: 0, max: 100, interval: 50,
        splitLine: { show: false },
        axisLabel: { ...yCommon.axisLabel, formatter: (v: number) => (v === 0 || v === 50 ? v.toFixed(4) : '') },
      },
    ],
    series: [
      // main panel frame (month separators)
      { type: 'line', data: [], xAxisIndex: 1, yAxisIndex: 0, z: 1, markLine: ml(monthLines) },
      {
        name: 'USD/CAD', type: 'candlestick', xAxisIndex: 0, yAxisIndex: 0, data: candleData, barWidth: 4, z: 3,
        itemStyle: { color: UP, color0: DOWN, borderColor: UP, borderColor0: DOWN, borderWidth: 1 },
      },
      lineS('SMA (100,0)', sma100, 1, 0, '#2b5fae', 1.2, 0.3),
      lineS('SMA (200,0)', sma200, 1, 0, '#ff2bff', 1.5, 0.3),
      lineS('SMA (50,0)', sma50, 1, 0, '#ff2a2a', 1, 0.3, 5, {
        markLine: ml([
          ...resistanceLevels.map((v) => ({ yAxis: v, lineStyle: { color: '#ff0000', width: 2, type: 'solid' } })),
          { yAxis: pivotLevel, lineStyle: { color: '#5a2e2e', width: 1.5, type: 'solid' } },
          ...fibValues.map((v, k) => [
            {
              coord: [fibStart, v], lineStyle: { color: '#ff9900', width: 2, type: 'solid' },
              label: { show: true, position: 'insideStartTop', formatter: fibNames[k], color: '#ff9900', fontSize: 12, fontFamily: FONT, distance: [0, 2] },
            },
            { coord: [X_MAX, v] },
          ]),
          [{ coord: channelUpper[0], lineStyle: { color: '#3a9bff', width: 1.3, type: [6, 5] } }, { coord: channelUpper[1] }],
          [{ coord: channelLower[0], lineStyle: { color: '#3a9bff', width: 1.3, type: [6, 5] } }, { coord: channelLower[1] }],
          {
            yAxis: lastPrice, lineStyle: { color: '#2c3e5c', width: 1, type: 'solid' },
            label: {
              show: true, position: 'end', distance: 3, formatter: lastPrice.toFixed(5), color: '#fff', fontWeight: 'bold',
              fontSize: 12, fontFamily: FONT, backgroundColor: '#2c3e5c', padding: [2, 4, 1, 4], borderRadius: 2,
            },
          },
        ]),
      }),

      // RSI panel
      {
        type: 'line', data: [], xAxisIndex: 2, yAxisIndex: 1, z: 1,
        markArea: bandAreas(70, 30),
        markLine: ml([...monthLines, ...bandLines(70, 30)]),
      },
      lineS('RSI (14,70,30,1)', rsi, 2, 1, '#2438f5', 1, false),

      // MACD panel
      { type: 'line', data: [], xAxisIndex: 4, yAxisIndex: 2, z: 1, markLine: ml(monthLines) },
      {
        name: 'hist', type: 'bar', xAxisIndex: 3, yAxisIndex: 2, data: macdHist, barWidth: 5, z: 2,
        itemStyle: { color: (p: any) => (p.value >= 0 ? '#00e400' : '#ff0000') },
      },
      lineS('MACD', macdLine, 4, 2, '#2348ff', 1.2, 0.3),
      lineS('Signal', macdSignal, 4, 2, '#ff7d1f', 1.2, 0.3),

      // FUSTO panel
      {
        type: 'line', data: [], xAxisIndex: 5, yAxisIndex: 3, z: 1,
        markArea: bandAreas(80, 20),
        markLine: ml([...monthLines, ...bandLines(80, 20), { yAxis: 50, lineStyle: { color: '#555', width: 1, type: 'solid' } }]),
      },
      lineS('FUSTO slow', stochSlow, 5, 3, '#2438f5', 1.1, 0.3),
      lineS('FUSTO fast', stochFast, 5, 3, '#ff1a1a', 1.1, 0.3),
    ],
    graphic: [
      // watermark
      { type: 'text', x: 15, y: 342, scaleX: 0.62, style: { text: 'FX', fill: '#8f8f8f', font: `bold 37px ${FONT}`, textVerticalAlign: 'middle' }, z: 1 },
      { type: 'text', x: 43, y: 342, scaleX: 0.56, style: { text: 'STREET', fill: '#f3c38c', font: `bold 37px ${FONT}`, textVerticalAlign: 'middle' }, z: 1 },
      ...legendBox(5, 5, 79, 21, '#2f8a6a', 'USD/CAD'),
      ...legendBox(5, 32, 84, 21, '#ff2020', 'SMA (50,0)'),
      ...legendBox(5, 59, 90, 21, '#1f5cc0', 'SMA (100,0)'),
      ...legendBox(5, 86, 90, 21, '#ff22ff', 'SMA (200,0)'),
      ...legendBox(4, 389, 111, 21, '#1733ff', 'RSI (14,70,30,1)'),
      ...legendBox(4, 489, 110, 21, '#1733ff', 'MACD (12,26,9)'),
      ...legendBox(4, 557, 139, 21, '#ff1010', 'FUSTO (14,3,3,80,20)'),
      ...handle(380),
      ...handle(480),
      ...handle(548),
    ],
  };
}

export default function App() {
  const ref = useRef<HTMLDivElement>(null);
  useEffect(() => {
    if (!ref.current) return;
    const chart = echarts.init(ref.current, undefined, { renderer: 'svg' });
    chart.setOption(buildOption() as any);
    return () => chart.dispose();
  }, []);
  return (
    <div
      ref={ref}
      style={{ position: 'fixed', left: 0, top: 0, width: 1531, height: 647, background: '#fff' }}
    />
  );
}
